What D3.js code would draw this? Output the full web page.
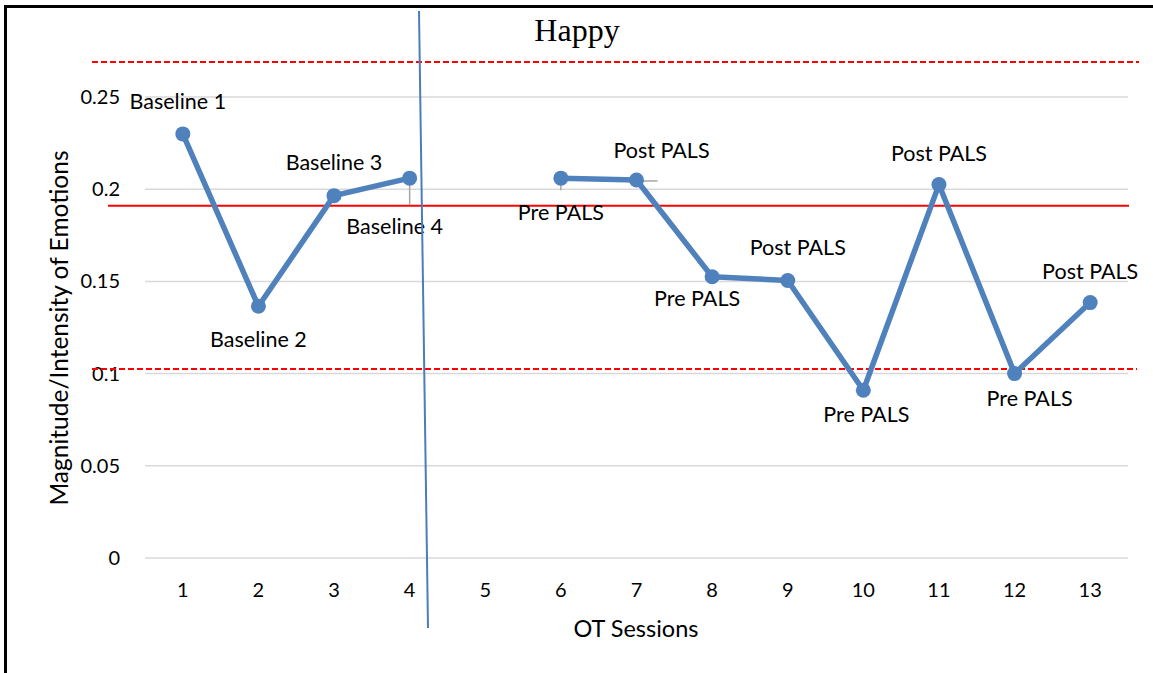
<!DOCTYPE html>
<html><head><meta charset="utf-8">
<script src="https://cdn.jsdelivr.net/npm/d3@7"></script>
<style>body{margin:0;background:#fff}svg{display:block}text{font-family:Lato,"Noto Sans",sans-serif;fill:#000}</style>
</head><body><svg id="c" width="1153" height="673"></svg>
<script>
const sessions = [1,2,3,4,5,6,7,8,9,10,11,12,13];
const values = [0.230,0.1365,0.1965,0.206,null,0.206,0.205,0.1525,0.1505,0.091,0.2025,0.100,0.1385];
const pointLabels = ["Baseline 1","Baseline 2","Baseline 3","Baseline 4",null,"Pre PALS","Post PALS","Pre PALS","Post PALS","Pre PALS","Post PALS","Pre PALS","Post PALS"];
const yTicks = [0,0.05,0.1,0.15,0.2,0.25];
const yTickLabels = ["0","0.05","0.1","0.15","0.2","0.25"];
const upperLimit = 0.269, meanLine = 0.191, lowerLimit = 0.1025;

const svg = d3.select("#c");
const x = d3.scaleBand().domain(sessions).range([145,1128]);
const y = d3.scaleLinear().domain([0,0.25]).range([558,97]);
const cx = d => x(d) + x.bandwidth()/2;

// frame
svg.append("line").attr("x1",5.5).attr("x2",5.5).attr("y1",6).attr("y2",673).attr("stroke","#000").attr("stroke-width",3);
svg.append("line").attr("x1",4).attr("x2",1153).attr("y1",6.5).attr("y2",6.5).attr("stroke","#000").attr("stroke-width",3);

// gridlines
svg.append("g").selectAll("line").data(yTicks).join("line")
  .attr("x1",145).attr("x2",1128).attr("y1",d=>y(d)).attr("y2",d=>y(d))
  .attr("stroke","#d9d9d9").attr("stroke-width",1.5);

// y tick labels
svg.append("g").selectAll("text").data(yTicks).join("text")
  .attr("x",120).attr("y",d=>y(d)+7).attr("text-anchor","end").attr("font-size",20)
  .text((d,i)=>yTickLabels[i]);

// x tick labels
svg.append("g").selectAll("text").data(sessions).join("text")
  .attr("x",d=>cx(d)).attr("y",597).attr("text-anchor","middle").attr("font-size",20).text(d=>d);

// reference lines
svg.append("line").attr("x1",92).attr("x2",1139).attr("y1",y(upperLimit)).attr("y2",y(upperLimit))
  .attr("stroke","#ff0000").attr("stroke-width",2).attr("stroke-dasharray","6,3");
svg.append("line").attr("x1",92).attr("x2",1137).attr("y1",y(lowerLimit)).attr("y2",y(lowerLimit))
  .attr("stroke","#ff0000").attr("stroke-width",2).attr("stroke-dasharray","6,3");
svg.append("line").attr("x1",108).attr("x2",1129).attr("y1",y(meanLine)).attr("y2",y(meanLine))
  .attr("stroke","#ff0000").attr("stroke-width",2);

// leader lines
const pts = sessions.map((s,i)=>({s, v:values[i], l:pointLabels[i]}));
svg.append("line").attr("x1",cx(4)).attr("x2",cx(4)).attr("y1",y(values[3])).attr("y2",y(values[3])+27).attr("stroke","#a6a6a6").attr("stroke-width",1.5);
svg.append("line").attr("x1",cx(6)).attr("x2",cx(6)).attr("y1",y(values[5])).attr("y2",y(values[5])+12).attr("stroke","#a6a6a6").attr("stroke-width",1.5);
svg.append("line").attr("x1",cx(7)).attr("x2",cx(7)+21).attr("y1",y(values[6])+1).attr("y2",y(values[6])+1).attr("stroke","#a6a6a6").attr("stroke-width",1.5);

// series line
const line = d3.line().defined(d=>d.v!=null).x(d=>cx(d.s)).y(d=>y(d.v));
svg.append("path").datum(pts).attr("d",line).attr("fill","none").attr("stroke","#4f81bd").attr("stroke-width",5.5).attr("stroke-linejoin","round");
svg.append("g").selectAll("circle").data(pts.filter(d=>d.v!=null)).join("circle")
  .attr("cx",d=>cx(d.s)).attr("cy",d=>y(d.v)).attr("r",7.5).attr("fill","#4f81bd");

// point labels
const offs = {1:[-5,-25],2:[0,41],3:[0,-26],4:[-15,56],6:[0,42],7:[25,-22],8:[-15,29],9:[10,-25],10:[3,32],11:[0,-24],12:[15,32],13:[0,-24]};
svg.append("g").selectAll("text").data(pts.filter(d=>d.l)).join("text")
  .attr("x",d=>cx(d.s)+offs[d.s][0]).attr("y",d=>y(d.v)+offs[d.s][1]).attr("text-anchor","middle")
  .attr("font-size",21.5).text(d=>d.l);

// intervention phase line
svg.append("line").attr("x1",419).attr("x2",428).attr("y1",11).attr("y2",628).attr("stroke","#4a7ebb").attr("stroke-width",2);

// titles
svg.append("text").attr("x",577).attr("y",41).attr("text-anchor","middle").attr("font-size",32)
  .style("font-family","'Liberation Serif','DejaVu Serif',serif").text("Happy");
svg.append("text").attr("x",636).attr("y",637).attr("text-anchor","middle").attr("font-size",23.5).text("OT Sessions");
svg.append("text").attr("transform","translate(68,328) rotate(-90)").attr("text-anchor","middle").attr("font-size",24.5).text("Magnitude/Intensity of Emotions");
</script></body></html>
